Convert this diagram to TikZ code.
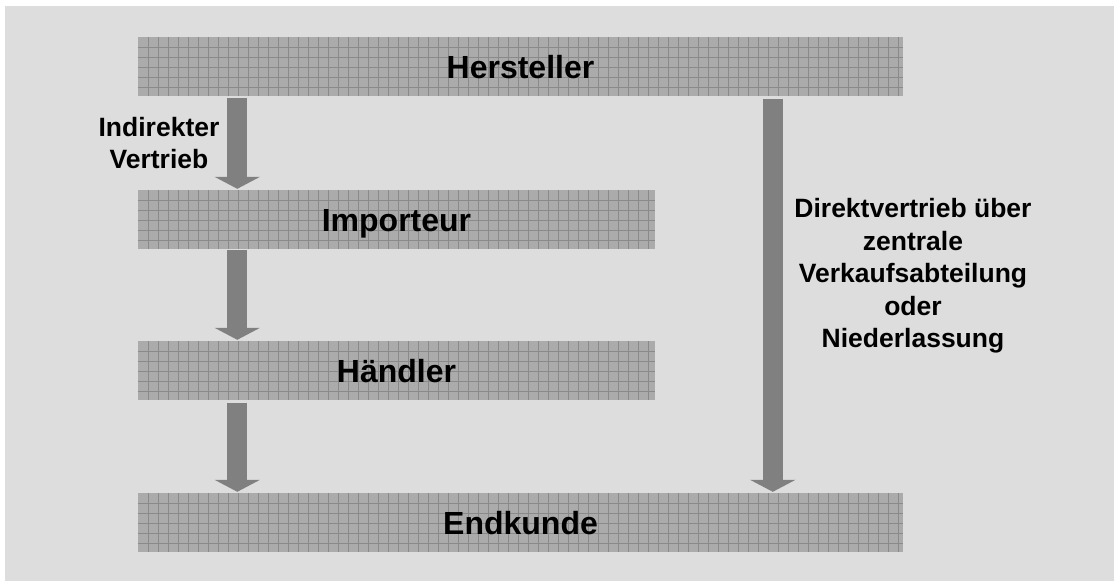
\documentclass[tikz,border=0pt]{standalone}
\usepackage{fontspec}
\setmainfont{Liberation Sans}
\usetikzlibrary{arrows.meta}
\definecolor{panelgray}{HTML}{DDDDDD}
\definecolor{barfill}{HTML}{ABABAB}
\definecolor{barline}{HTML}{8A8A8A}
\definecolor{arrowgray}{HTML}{808080}
\tikzset{
  stage/.style={rectangle, fill=barfill, inner sep=0pt, minimum height=59pt,
    text height=23pt, text depth=0pt,
    font=\bfseries\fontsize{32}{38}\selectfont, text=black,
    path picture={
      \foreach \i in {1,...,80}
        \draw[barline, line width=1pt]
          ([xshift=10*\i pt]path picture bounding box.north west) --
          ([xshift=10*\i pt]path picture bounding box.south west);
      \foreach \j in {1,...,6}
        \draw[barline, line width=1pt]
          ([yshift=-10*\j pt]path picture bounding box.north west) --
          ([yshift=-10*\j pt]path picture bounding box.north east);
    }},
  widestage/.style={stage, minimum width=765pt},
  narrowstage/.style={stage, minimum width=517pt},
  flow/.style={draw=arrowgray, line width=20pt,
    -{Triangle[width=45pt,length=12pt,fill=arrowgray]}},
  caption/.style={align=center, inner sep=0pt,
    font=\bfseries\fontsize{26.5}{32.4}\selectfont}
}
\begin{document}
\begin{tikzpicture}[x=1pt,y=-1pt]
  \useasboundingbox (0,0) rectangle (1114,581);
  \fill[white] (0,0) rectangle (1114,581);
  \fill[panelgray] (5,6) rectangle (1114,581);

  % distribution stages
  \node[widestage]   (her) at (520.5,66.5)  {Hersteller};
  \node[narrowstage] (imp) at (396.5,219.5) {Importeur};
  \node[narrowstage] (hae) at (396.5,370.5) {Händler};
  \node[widestage]   (end) at (520.5,522.5) {Endkunde};

  % indirect channel
  \draw[flow] ([xshift=99.5pt,yshift=-2pt]her.south west) -- ([xshift=99.5pt,yshift=1pt]imp.north west);
  \draw[flow] ([xshift=99.5pt,yshift=-1pt]imp.south west) -- ([xshift=99.5pt,yshift=1pt]hae.north west);
  \draw[flow] ([xshift=99.5pt,yshift=-3pt]hae.south west) -- ([xshift=99.5pt,yshift=1pt]end.north west);

  % direct channel
  \draw[flow] ([xshift=635pt,yshift=-3pt]her.south west) -- ([xshift=635pt,yshift=1pt]end.north west);

  \node[caption] (ind) at (159,143) {Indirekter\\Vertrieb};
  \node[caption] (dir) at (913,276) {Direktvertrieb über\\zentrale\\Verkaufsabteilung\\oder\\Niederlassung};
\end{tikzpicture}
\end{document}
